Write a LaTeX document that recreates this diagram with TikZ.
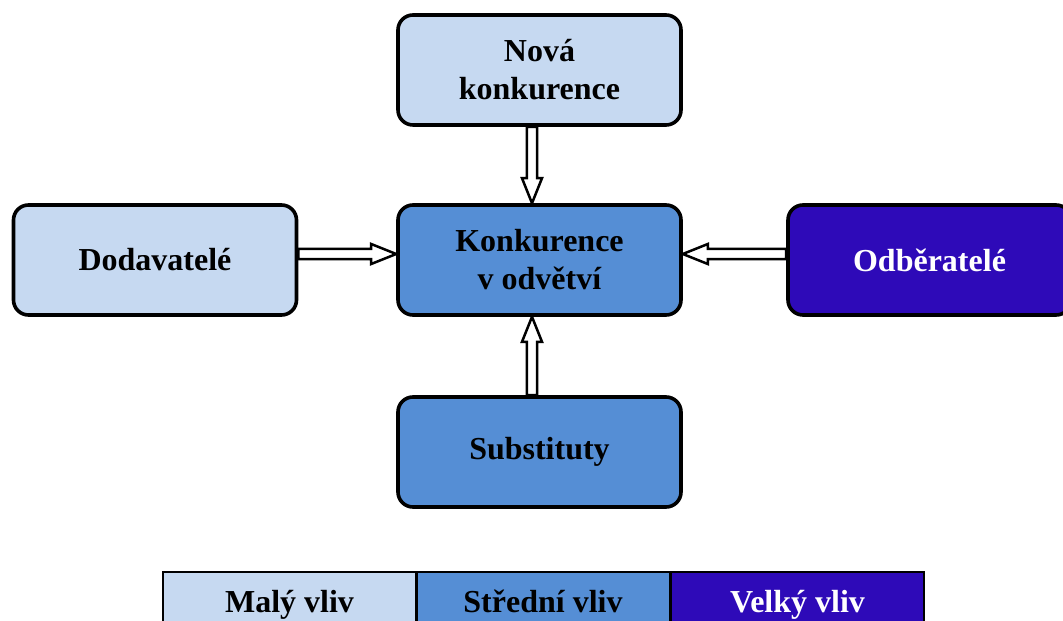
\documentclass[tikz,border=0pt]{standalone}
\usepackage{fontspec}
\setmainfont{Liberation Serif}
\usetikzlibrary{calc}

\definecolor{malyblue}{RGB}{198,217,241}
\definecolor{stredniblue}{RGB}{85,142,213}
\definecolor{velkyblue}{RGB}{46,10,184}

\tikzset{
  box/.style={draw=black,line width=1.8pt,rounded corners=7.5pt,minimum width=141.5pt,minimum height=55pt,align=center,font=\bfseries\fontsize{16}{19}\selectfont},
  legendcell/.style={draw=black,line width=1pt,minimum width=126.5pt,minimum height=30pt,inner sep=0pt,text height=13pt,text depth=3pt,font=\bfseries\fontsize{16}{19}\selectfont},
  arrowline/.style={draw=black,fill=white,line width=1.25pt,line join=miter}
}

% hollow block arrow from #1 to #2
\newcommand{\hollowarrow}[2]{%
  \path let \p1=(#1), \p2=(#2), \n1={atan2(\y2-\y1,\x2-\x1)}, \n2={veclen(\x2-\x1,\y2-\y1)} in
    \pgfextra{\xdef\harrang{\n1}\xdef\harrlen{\n2}\xdef\harrx{\x1}\xdef\harry{\y1}};
  \draw[arrowline,shift={(\harrx,\harry)},rotate=\harrang]
    (0pt,-2.6pt) -- ({\harrlen-12.5pt},-2.6pt) -- ({\harrlen-12.5pt},-5pt)
    -- ({\harrlen},0pt) -- ({\harrlen-12.5pt},5pt) -- ({\harrlen-12.5pt},2.6pt)
    -- (0pt,2.6pt) -- cycle;
}

\begin{document}
\begin{tikzpicture}[x=0.5pt,y=0.5pt]
  \useasboundingbox (0,0) rectangle (1063,620);
  \clip (0,0) rectangle (1063,620);

  % forces
  \node[box,fill=malyblue] (nova) at (539.5,550) {Nová\\konkurence};
  \node[box,fill=stredniblue] (konk) at (539.5,360) {Konkurence\\v odvětví};
  \node[box,fill=stredniblue] (subs) at (539.5,168) {Substituty};
  \node[box,fill=malyblue] (dod) at (155,360) {Dodavatelé};
  \node[box,fill=velkyblue,text=white] (odb) at (929.5,360) {Odběratelé};

  % arrows
  \hollowarrow{$(nova.south)+(-7.5,0)$}{$(konk.north)+(-7.5,0)$}
  \hollowarrow{$(subs.north)+(-7.5,0)$}{$(konk.south)+(-7.5,0)$}
  \hollowarrow{$(dod.east)+(0,6)$}{$(konk.west)+(0,6)$}
  \hollowarrow{$(odb.west)+(0,6)$}{$(konk.east)+(0,6)$}

  % legend
  \node[legendcell,fill=malyblue] (maly) at (289.5,18) {Malý vliv};
  \node[legendcell,fill=stredniblue] (stredni) at (543,18) {Střední vliv};
  \node[legendcell,fill=velkyblue,text=white] (velky) at (797.5,18) {Velký vliv};
\end{tikzpicture}
\end{document}
